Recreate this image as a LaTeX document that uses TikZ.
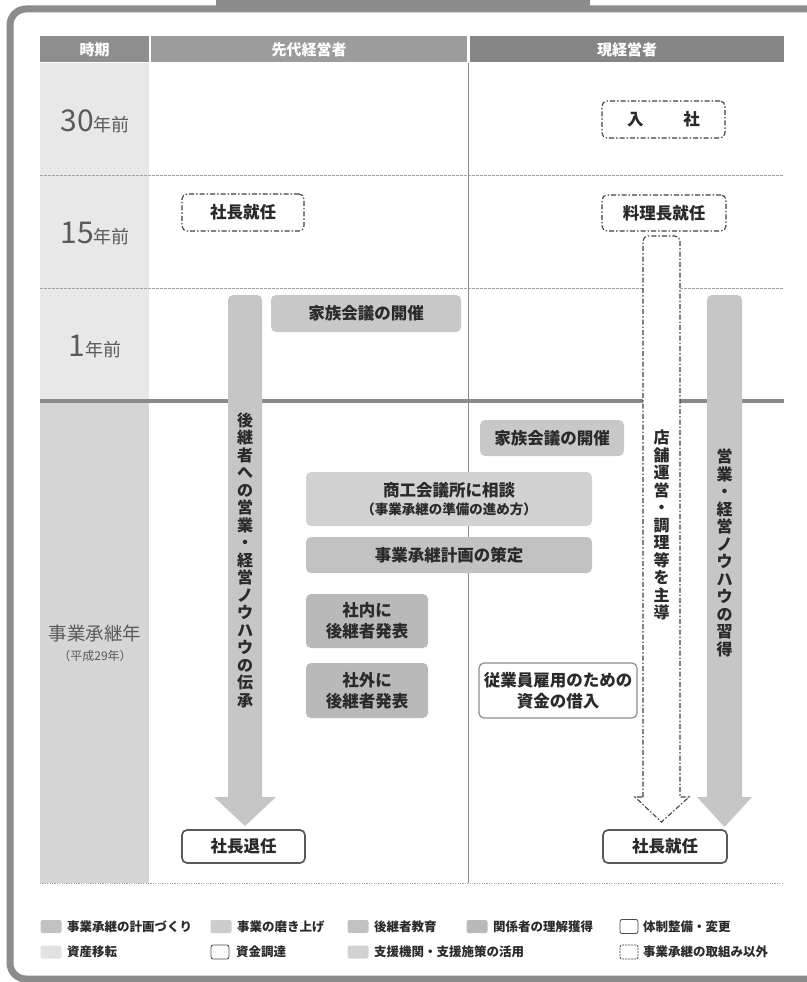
\documentclass[tikz,border=0pt]{standalone}
\usepackage{fontspec}
\setmainfont{Noto Sans CJK JP}
\definecolor{frame}{HTML}{8C8C8C}
\definecolor{hdrA}{HTML}{8E8E8E}
\definecolor{hdrB}{HTML}{9C9C9C}
\definecolor{hdrC}{HTML}{858585}
\definecolor{colA}{HTML}{E8E8E8}
\definecolor{colB}{HTML}{D6D6D6}
\definecolor{lineg}{HTML}{8A8A8A}
\definecolor{arrowg}{HTML}{C6C6C6}
\definecolor{fillkz}{HTML}{C8C8C8}
\definecolor{fillsk}{HTML}{D2D2D2}
\definecolor{fillkk}{HTML}{C2C2C2}
\definecolor{fillsn}{HTML}{B9B9B9}
\definecolor{fillsa}{HTML}{E2E2E2}
\definecolor{fillmg}{HTML}{CDCDCD}
\definecolor{txt}{HTML}{2A2A2A}
\definecolor{labtxt}{HTML}{5A5A5A}
\begin{document}
\begin{tikzpicture}[x=1pt,y=-1pt,
  hdr/.style={fill=#1, text=white, font=\bfseries\fontsize{15}{17}\selectfont, inner sep=0pt, minimum height=26pt},
  lab/.style={text=labtxt, align=center, inner sep=0pt},
  gbox/.style={fill=#1, rounded corners=5pt, text=txt, align=center, inner sep=0pt, font=\bfseries\fontsize{16.5}{21}\selectfont},
  dbox/.style={draw=black!75, fill=white, line width=1.1pt, dash pattern=on 5pt off 2pt on 1.5pt off 2pt, rounded corners=5pt, text=txt, align=center, inner sep=0pt, font=\bfseries\fontsize{16.5}{19}\selectfont},
  wbox/.style={draw=black!65, fill=white, line width=1.7pt, rounded corners=5pt, text=txt, align=center, inner sep=0pt, font=\bfseries\fontsize{16.5}{21}\selectfont},
  vtext/.style={text=txt, align=center, inner sep=0pt, font=\bfseries\fontsize{16}{17.5}\selectfont},
  swatch/.style={fill=#1, rounded corners=2pt, minimum width=21pt, minimum height=13pt, inner sep=0pt},
  lgtxt/.style={anchor=west, text=txt, inner sep=0pt, font=\bfseries\fontsize{12.5}{14}\selectfont},
]
\useasboundingbox (0,0) rectangle (806,982);
% outer frame and title tab
\draw[frame, line width=7pt, rounded corners=16pt] (10,9) rectangle (840,979);
\fill[frame, rounded corners=8pt] (216,-20) rectangle (590,12);
% header
\node[hdr=hdrA, minimum width=109pt] (h1) at (94.5,49.5) {時期};
\node[hdr=hdrB, minimum width=316pt] (h2) at (309,49.5) {先代経営者};
\node[hdr=hdrC, minimum width=314pt] (h3) at (627,49.5) {現経営者};
% left column background
\fill[colA] (40,63) rectangle (149,401);
\fill[colB] (40,401) rectangle (149,883);
% grid lines
\draw[lineg, line width=0.9pt] (468,63) -- (468,883);
\draw[lineg!80, line width=0.7pt, dash pattern=on 2.5pt off 1.5pt] (40,175) -- (784,175);
\draw[lineg!80, line width=0.7pt, dash pattern=on 2.5pt off 1.5pt] (40,288) -- (784,288);
\draw[lineg, line width=4pt] (40,401) -- (784,401);
\draw[lineg!80, line width=0.8pt, dash pattern=on 1.2pt off 1.2pt] (40,883) -- (784,883);
% row labels
\node[lab] (r30) at (95,121) {\fontsize{30}{32}\selectfont 30\fontsize{18}{20}\selectfont 年前};
\node[lab] (r15) at (95,234) {\fontsize{30}{32}\selectfont 15\fontsize{18}{20}\selectfont 年前};
\node[lab] (r1) at (95,347) {\fontsize{30}{32}\selectfont 1\fontsize{18}{20}\selectfont 年前};
\node[lab, font=\fontsize{18.5}{20}\selectfont] (r0) at (95,633) {事業承継年};
\node[lab, font=\fontsize{12}{14}\selectfont] (r0b) at (95,656) {（平成29年）};
% arrows
\fill[arrowg] (228,797) [rounded corners=5pt]-- (228,295) -- (262,295) [sharp corners]-- (262,797) -- (276,797) -- (245,826) -- (214,797) -- cycle;
\fill[arrowg] (707,797) [rounded corners=5pt]-- (707,295) -- (742,295) [sharp corners]-- (742,797) -- (752,797) -- (724.5,827) -- (697,797) -- cycle;
\filldraw[fill=white, draw=black!75, line width=1.1pt, dash pattern=on 5pt off 2pt on 1.5pt off 2pt] (643,797) [rounded corners=5pt]-- (643,236) -- (680,236) [sharp corners]-- (680,797) -- (689,797) -- (661.5,822) -- (635,797) -- cycle;
\node[vtext] (v1) at (245,560) {後\\継\\者\\へ\\の\\営\\業\\・\\経\\営\\ノ\\ウ\\ハ\\ウ\\の\\伝\\承};
\node[vtext] (v2) at (661.5,525) {店\\舗\\運\\営\\・\\調\\理\\等\\を\\主\\導};
\node[vtext] (v3) at (724.5,553) {営\\業\\・\\経\\営\\ノ\\ウ\\ハ\\ウ\\の\\習\\得};
% boxes
\node[dbox, minimum width=123pt, minimum height=37pt] (nyusha) at (663.5,119.5) {入\hspace{2.4em}社};
\node[dbox, minimum width=122pt, minimum height=37pt] (shacho) at (243,212.5) {社長就任};
\node[dbox, minimum width=124pt, minimum height=36pt] (ryori) at (664,213) {料理長就任};
\node[gbox=fillkz, minimum width=190pt, minimum height=37pt] (kazoku1) at (366,313.5) {家族会議の開催};
\node[gbox=fillkz, minimum width=144pt, minimum height=36pt] (kazoku2) at (552,438) {家族会議の開催};
\node[gbox=fillsk, minimum width=286pt, minimum height=54pt] (shoko) at (449,499) {商工会議所に相談\\[-3pt]{\fontsize{13.5}{15}\selectfont （事業承継の準備の進め方）}};
\node[gbox=fillkk, minimum width=286pt, minimum height=36pt] (keikaku) at (449,555) {事業承継計画の策定};
\node[gbox=fillsn, minimum width=122pt, minimum height=54pt] (shanai) at (367,621) {社内に\\後継者発表};
\node[gbox=fillsn, minimum width=122pt, minimum height=55pt] (shagai) at (367,690.5) {社外に\\後継者発表};
\node[wbox, draw=black!45, line width=1.2pt, minimum width=158pt, minimum height=55pt] (jugyo) at (558,690.5) {従業員雇用のための\\資金の借入};
\node[wbox, minimum width=123pt, minimum height=33pt] (taiin) at (243.5,846.5) {社長退任};
\node[wbox, minimum width=124pt, minimum height=33pt] (shunin) at (665,846.5) {社長就任};
% legend
\node[swatch=fillkk] (s1) at (51,926.5) {};
\node[lgtxt] (l1) at (67,926.5) {事業承継の計画づくり};
\node[swatch=fillmg] (s2) at (221,926.5) {};
\node[lgtxt] (l2) at (237,926.5) {事業の磨き上げ};
\node[swatch=fillkk] (s3) at (358,926.5) {};
\node[lgtxt] (l3) at (374,926.5) {後継者教育};
\node[swatch=fillsn] (s4) at (477,926.5) {};
\node[lgtxt] (l4) at (493,926.5) {関係者の理解獲得};
\node[swatch=white, draw=black!70, line width=0.8pt, minimum width=18pt, minimum height=14pt] (s5) at (629,926.5) {};
\node[lgtxt] (l5) at (643,926.5) {体制整備・変更};
\node[swatch=fillsa] (s6) at (51,952) {};
\node[lgtxt] (l6) at (67,952) {資産移転};
\node[swatch=white, draw=black!70, line width=0.8pt, minimum width=18pt, minimum height=14pt] (s7) at (220,952) {};
\node[lgtxt] (l7) at (236,952) {資金調達};
\node[swatch=fillsk] (s8) at (358,952) {};
\node[lgtxt] (l8) at (374,952) {支援機関・支援施策の活用};
\node[swatch=white, draw=black!75, line width=0.8pt, dash pattern=on 2pt off 1pt, minimum width=18pt, minimum height=14pt] (s9) at (629,952) {};
\node[lgtxt] (l9) at (643,952) {事業承継の取組み以外};
\end{tikzpicture}
\end{document}
